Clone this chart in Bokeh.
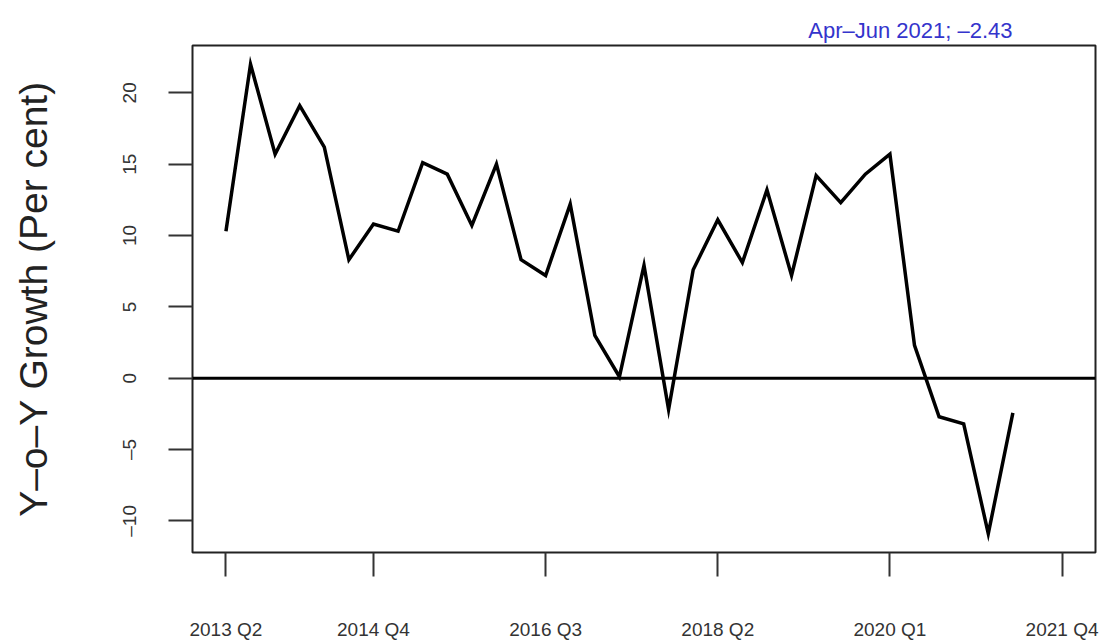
from bokeh.plotting import figure
from bokeh.models import Range1d, FixedTicker, Span
from bokeh.embed import file_html
from bokeh.resources import INLINE

# ---------------- data ----------------
# quarter axis: 2013 Q2 ... 2021 Q4
quarters = [f"{yr} Q{q}" for yr in range(2013, 2022) for q in range(1, 5)][1:]

# Y-o-Y growth (per cent), 2013 Q2 ... 2021 Q2
growth = [10.3, 22.0, 15.7, 19.1, 16.2, 8.3, 10.8, 10.3, 15.1, 14.3,
          10.7, 15.0, 8.3, 7.2, 12.2, 3.0, 0.1, 7.9, -2.2, 7.6,
          11.1, 8.1, 13.2, 7.2, 14.2, 12.3, 14.3, 15.7, 2.3, -2.7,
          -3.2, -10.9, -2.43]

x_tick_labels = ["2013 Q2", "2014 Q4", "2016 Q3", "2018 Q2", "2020 Q1", "2021 Q4"]
y_ticks = [-10, -5, 0, 5, 10, 15, 20]
latest_period = "Apr–Jun 2021"
y_title = "Y–o–Y Growth (Per cent)"

FONT = "Liberation Sans"
DASH = "–"

# ---------------- figure ----------------
xs = list(range(1, len(growth) + 1))
x_lo, x_hi = 1, len(quarters)
x_pad = 0.04 * (x_hi - x_lo)
y_lo, y_hi = min(growth), max(growth)
y_pad = 0.04 * (y_hi - y_lo)

latest_val = growth[-1]
note = f"{latest_period}; {latest_val:.2f}".replace("; -", "; " + DASH)

p = figure(width=1100, height=642, output_backend="svg", toolbar_location=None,
           x_range=Range1d(x_lo - x_pad, x_hi + x_pad),
           y_range=Range1d(y_lo - y_pad, y_hi + y_pad))
p.min_border_left = 192
p.min_border_right = 5
p.min_border_top = 45
p.min_border_bottom = 89
p.background_fill_color = "white"
p.border_fill_color = "white"
p.outline_line_color = "#222222"
p.outline_line_width = 2
p.outline_line_alpha = 1.0
p.xgrid.grid_line_color = None
p.ygrid.grid_line_color = None

# latest value note (top right, ending above the last observation)
p.title.text = note
p.title.align = "right"
p.title.offset = 83
p.title.standoff = 6
p.title.text_font = FONT
p.title.text_font_size = "22px"
p.title.text_font_style = "normal"
p.title.text_color = "#3434cc"

# zero reference line
p.add_layout(Span(location=0, dimension="width", line_color="black", line_width=3))

# series
p.line(xs, growth, line_color="black", line_width=3.5, line_join="miter")

# x axis
x_tick_pos = [quarters.index(l) + 1 for l in x_tick_labels]
p.xaxis.ticker = FixedTicker(ticks=x_tick_pos)
p.xaxis.major_label_overrides = {pos: lab for pos, lab in zip(x_tick_pos, x_tick_labels)}
# y axis
p.yaxis.ticker = FixedTicker(ticks=y_ticks)
p.yaxis.major_label_overrides = {t: (str(t).replace("-", DASH)) for t in y_ticks}
p.yaxis.major_label_orientation = "vertical"
p.yaxis.axis_label = y_title

for ax in (p.xaxis[0], p.yaxis[0]):
    ax.axis_line_color = None
    ax.major_tick_in = 0
    ax.major_tick_out = 24
    ax.major_tick_line_width = 2
    ax.major_tick_line_color = "#333333"
    ax.minor_tick_line_color = None
    ax.major_label_text_font = FONT
    ax.major_label_text_font_size = "19px"
    ax.major_label_text_color = "#333333"

p.xaxis.major_label_standoff = 42
p.yaxis.major_label_standoff = 28
p.yaxis.axis_label_text_font = FONT
p.yaxis.axis_label_text_font_size = "39px"
p.yaxis.axis_label_text_font_style = "normal"
p.yaxis.axis_label_text_color = "#222222"
p.yaxis.axis_label_standoff = 62

open("out.html", "w").write(file_html(p, INLINE))
